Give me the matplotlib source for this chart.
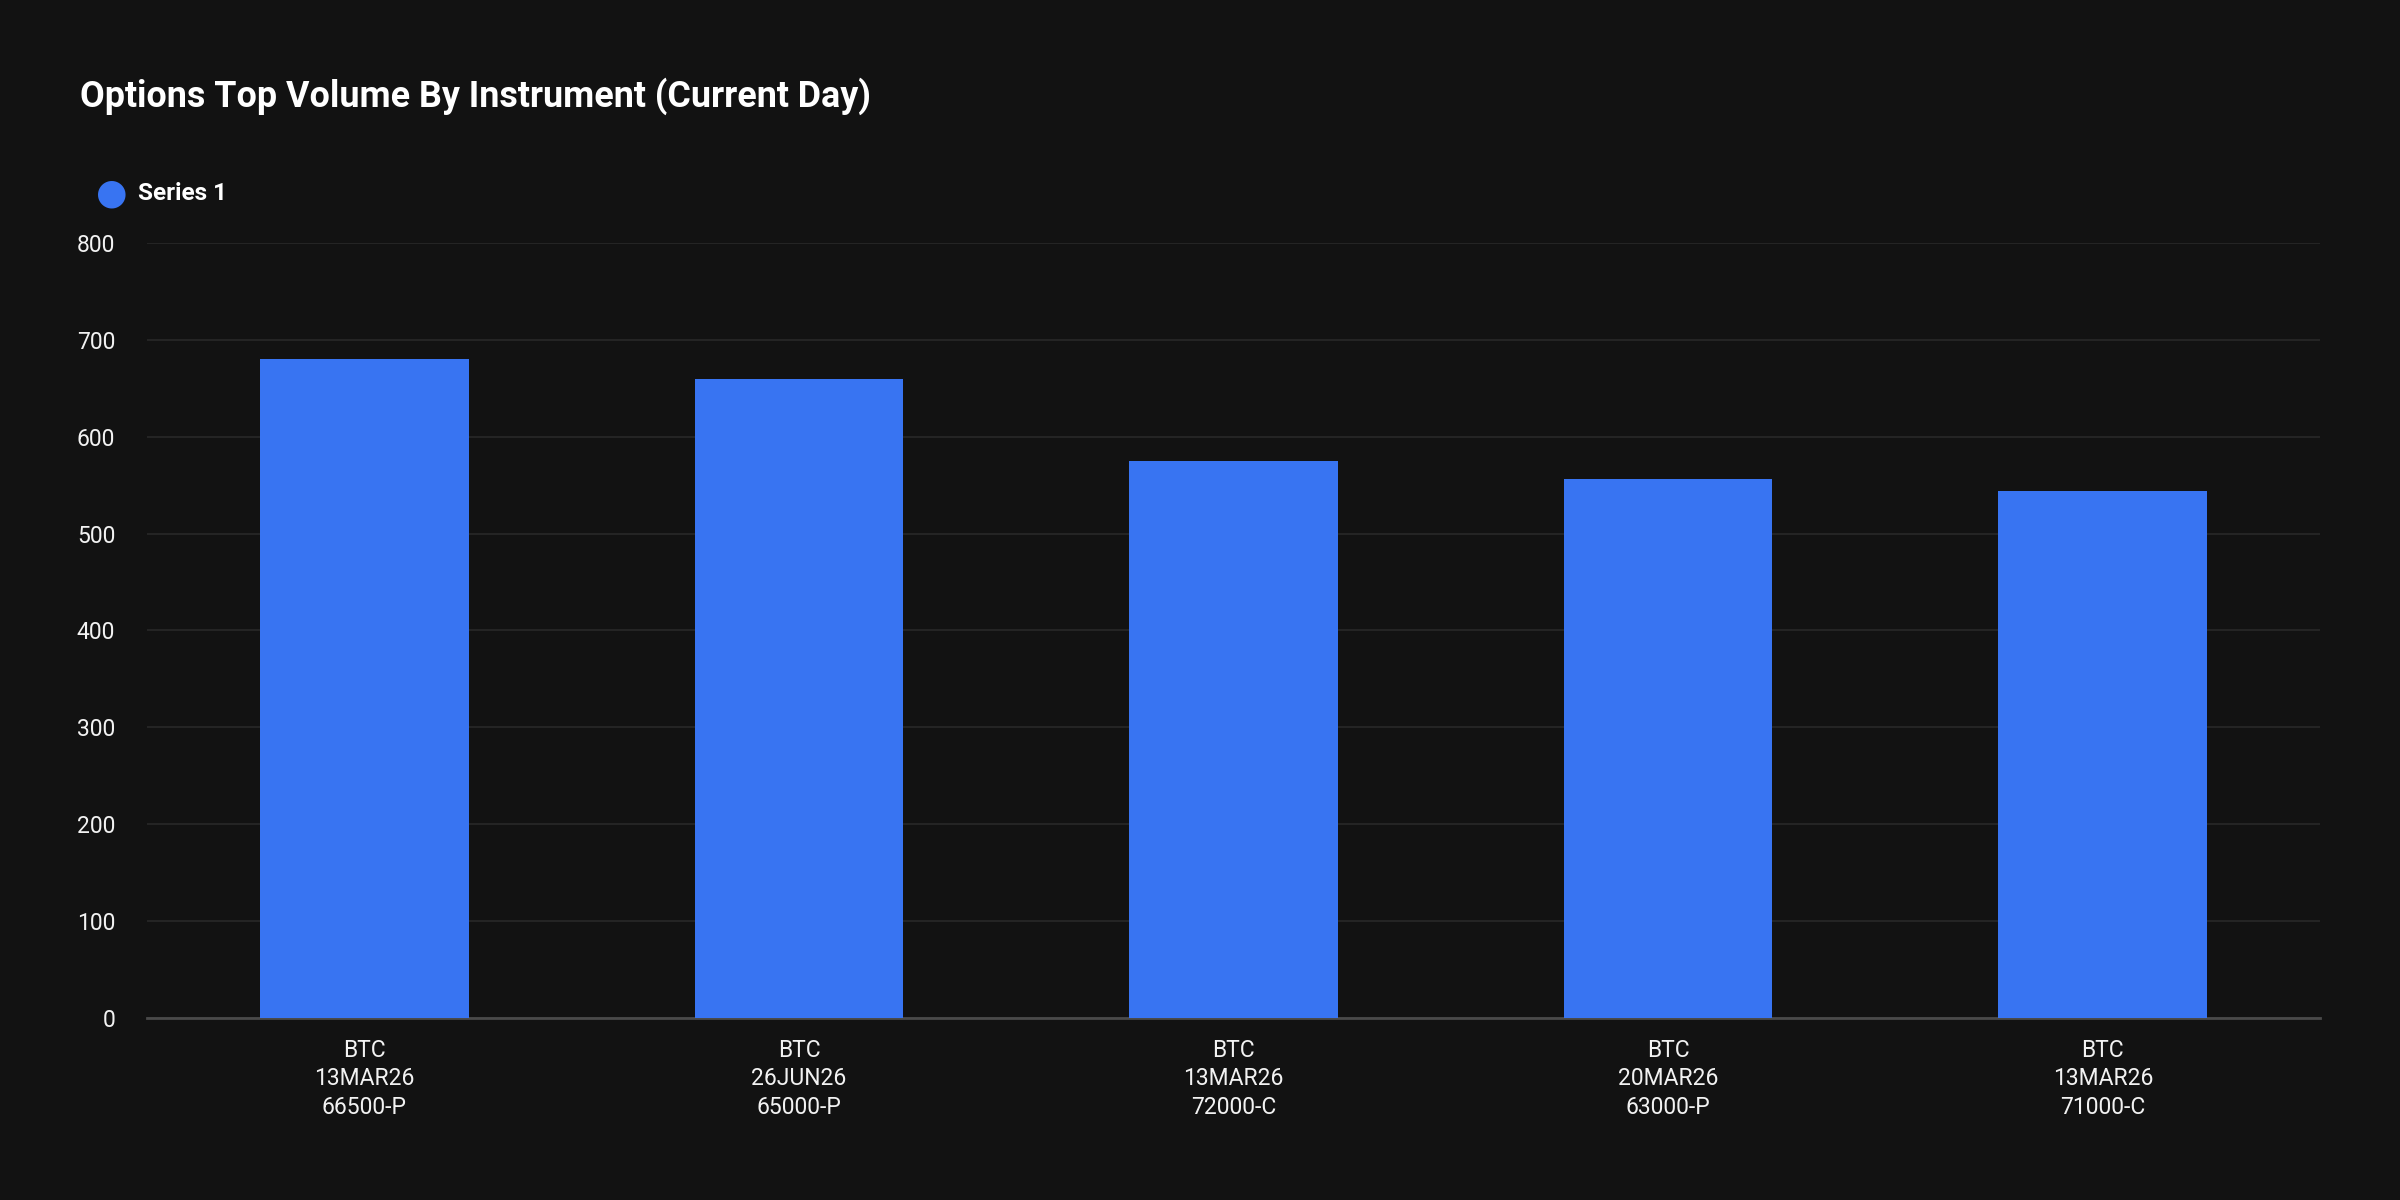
import matplotlib
matplotlib.use("Agg")
from matplotlib import pyplot as plt

# data
instruments = ["BTC\n13MAR26\n66500-P", "BTC\n26JUN26\n65000-P", "BTC\n13MAR26\n72000-C",
               "BTC\n20MAR26\n63000-P", "BTC\n13MAR26\n71000-C"]
volumes = [680, 660, 575, 556, 544]
yticks = [0, 100, 200, 300, 400, 500, 600, 700, 800]

bg = "#121212"
bar_col = "#3874f2"
txt = "#f2f2f2"

plt.rcParams['font.family'] = ['Roboto', 'DejaVu Sans']

fig = plt.figure(figsize=(24, 12), dpi=100, facecolor=bg)
ax = fig.add_axes([0.0613, 0.1517, 0.9054, 0.6458], facecolor=bg)

pos = list(range(len(instruments)))
ax.bar(pos, volumes, width=0.48, color=bar_col, zorder=3)

ax.set_xlim(-0.5, len(instruments) - 0.5)
ax.set_ylim(0, 800)
ax.set_yticks(yticks)
ax.set_yticklabels([str(t) for t in yticks])
ax.set_xticks(pos)
ax.set_xticklabels(instruments, linespacing=1.3)

ax.grid(axis='y', color="#242424", linewidth=1.5, zorder=0)
for s in ['top', 'right', 'left']:
    ax.spines[s].set_visible(False)
ax.spines['bottom'].set_color("#4a4a4a")
ax.spines['bottom'].set_linewidth(2)
ax.tick_params(axis='both', length=0, colors=txt, labelsize=16.5)
ax.tick_params(axis='y', pad=23)
ax.tick_params(axis='x', pad=15)

fig.text(0.0333, 0.9195, "Options Top Volume By Instrument (Current Day)", color="white",
         fontsize=25.8, fontweight='bold', va='center', ha='left')

# legend
fig.text(0.0467, 1 - 194 / 1200, "\u25CF", color=bar_col, fontsize=26, va='center', ha='center',
         family=['DejaVu Sans'])
fig.text(0.0575, 1 - 194 / 1200, "Series 1", color="white", fontsize=17.5, fontweight='bold',
         va='center', ha='left')

fig.savefig("out.png", dpi=100, facecolor=bg)
